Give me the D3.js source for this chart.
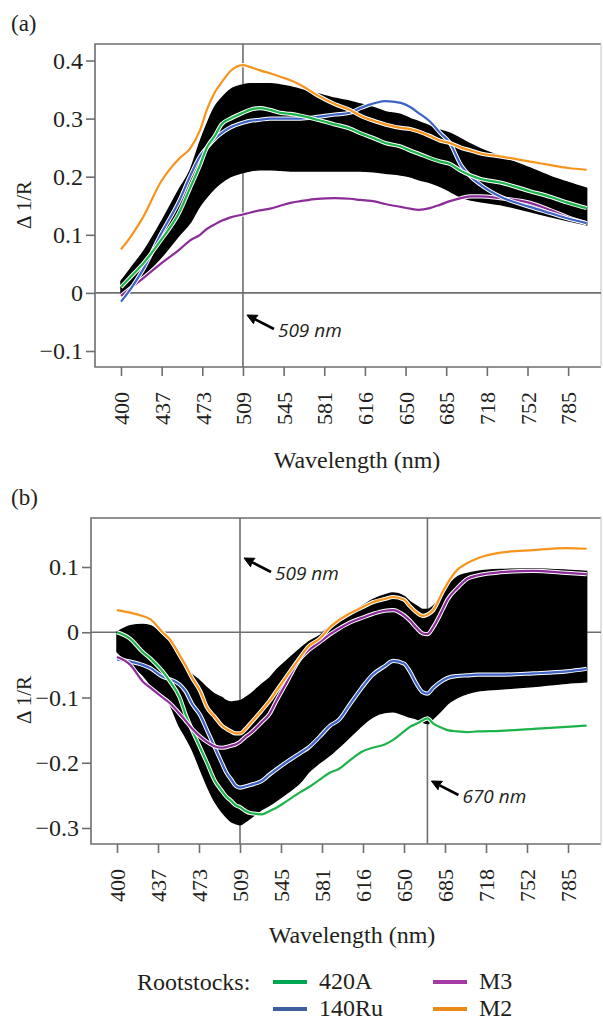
<!DOCTYPE html>
<html><head><meta charset="utf-8">
<script src="https://cdn.jsdelivr.net/npm/d3@7"></script>
<style>
html,body{margin:0;padding:0;background:#fff;}
svg{display:block;}
</style></head>
<body>
<svg id="chart" width="603" height="1022"></svg>
<script>
// ---------- data ----------
const tickWl = [400,437,473,509,545,581,616,650,685,718,752,785];
const tickLabels = ["400","437","473","509","545","581","616","650","685","718","752","785"];
const wlEnd = 800;
const seriesNames = ["420A","140Ru","M3","M2"];
const seriesColors = ["#1db34b","#3f63c4","#8b2c98","#f7941d"];
const legendColors = ["#00a651","#3e5e9e","#a43aa6","#e98b16"];
const yTicksA = [-0.1,0,0.1,0.2,0.3,0.4];
const yTicksB = [-0.3,-0.2,-0.1,0,0.1];
const yTickLabelsA = ["\u22120.1","0","0.1","0.2","0.3","0.4"];
const yTickLabelsB = ["\u22120.3","\u22120.2","\u22120.1","0","0.1"];

// panel (a)
const wlA = [400,410,420,436,453,462,471,477,484,490,498,509,515,524,533,542,551,560,575,590,603,612,625,633,646,654,661,671,680,688,697,705,713,729,754,771,785,800];
const a420A = [0.01,0.03,0.05,0.09,0.14,0.18,0.22,0.25,0.27,0.29,0.30,0.31,0.315,0.318,0.315,0.31,0.308,0.305,0.298,0.29,0.283,0.275,0.265,0.258,0.252,0.245,0.24,0.232,0.226,0.222,0.21,0.202,0.196,0.19,0.175,0.165,0.155,0.146];
const a140Ru = [-0.015,0.01,0.04,0.10,0.16,0.20,0.235,0.25,0.265,0.275,0.285,0.293,0.296,0.298,0.30,0.30,0.30,0.30,0.303,0.307,0.31,0.318,0.327,0.33,0.327,0.32,0.31,0.295,0.275,0.258,0.22,0.2,0.186,0.166,0.148,0.137,0.128,0.12];
const aM3 = [-0.005,0.01,0.025,0.05,0.075,0.09,0.10,0.11,0.118,0.124,0.13,0.135,0.138,0.142,0.145,0.15,0.155,0.158,0.162,0.163,0.162,0.16,0.157,0.153,0.148,0.145,0.143,0.146,0.152,0.158,0.163,0.166,0.166,0.163,0.155,0.142,0.13,0.12];
const aM2 = [0.075,0.10,0.13,0.19,0.232,0.248,0.28,0.315,0.345,0.362,0.382,0.392,0.389,0.383,0.378,0.372,0.366,0.358,0.34,0.325,0.315,0.305,0.295,0.29,0.284,0.282,0.278,0.27,0.262,0.258,0.25,0.245,0.24,0.235,0.226,0.22,0.215,0.212];
const aUpper = [0.02,0.045,0.07,0.12,0.18,0.21,0.26,0.29,0.32,0.335,0.35,0.358,0.36,0.36,0.36,0.358,0.355,0.35,0.343,0.335,0.33,0.325,0.318,0.312,0.307,0.3,0.295,0.287,0.28,0.275,0.265,0.256,0.248,0.235,0.215,0.2,0.19,0.18];
const aLower = [0.0,0.015,0.03,0.06,0.10,0.12,0.15,0.165,0.18,0.19,0.20,0.207,0.21,0.212,0.212,0.211,0.21,0.21,0.21,0.21,0.21,0.21,0.208,0.206,0.203,0.2,0.195,0.19,0.183,0.175,0.165,0.16,0.157,0.152,0.14,0.131,0.124,0.117];

// panel (b)
const wlB = [400,412,423,430,441,447,456,461,467,474,480,487,493,497,501,505,509,514,518,528,535,541,549,562,569,579,588,595,605,615,624,634,641,650,655,661,666,670,675,683,687,695,703,711,730,757,784,800];
const b420A = [0.0,-0.01,-0.03,-0.04,-0.06,-0.074,-0.1,-0.125,-0.15,-0.177,-0.2,-0.228,-0.243,-0.252,-0.258,-0.265,-0.268,-0.274,-0.277,-0.279,-0.274,-0.269,-0.26,-0.245,-0.238,-0.226,-0.215,-0.21,-0.196,-0.183,-0.177,-0.172,-0.165,-0.152,-0.145,-0.14,-0.135,-0.132,-0.14,-0.147,-0.15,-0.152,-0.153,-0.152,-0.151,-0.148,-0.145,-0.143];
const b140Ru = [-0.042,-0.045,-0.05,-0.055,-0.068,-0.072,-0.08,-0.09,-0.11,-0.127,-0.15,-0.177,-0.2,-0.215,-0.225,-0.235,-0.238,-0.236,-0.234,-0.228,-0.218,-0.21,-0.2,-0.185,-0.177,-0.16,-0.143,-0.135,-0.11,-0.085,-0.065,-0.052,-0.044,-0.048,-0.06,-0.08,-0.092,-0.094,-0.085,-0.074,-0.07,-0.067,-0.066,-0.065,-0.065,-0.063,-0.06,-0.056];
const bM3 = [-0.038,-0.05,-0.075,-0.085,-0.1,-0.108,-0.125,-0.135,-0.148,-0.16,-0.168,-0.175,-0.177,-0.176,-0.174,-0.172,-0.168,-0.16,-0.155,-0.138,-0.125,-0.105,-0.08,-0.04,-0.028,-0.015,-0.003,0.005,0.015,0.022,0.028,0.033,0.034,0.026,0.018,0.006,-0.002,-0.003,0.008,0.035,0.05,0.068,0.082,0.087,0.092,0.094,0.091,0.089];
const bM2 = [0.034,0.03,0.025,0.02,0.0,-0.01,-0.035,-0.05,-0.07,-0.09,-0.115,-0.13,-0.143,-0.148,-0.152,-0.155,-0.155,-0.148,-0.14,-0.12,-0.105,-0.09,-0.07,-0.038,-0.022,-0.01,0.008,0.018,0.029,0.038,0.046,0.051,0.054,0.05,0.04,0.03,0.025,0.027,0.034,0.062,0.075,0.096,0.106,0.113,0.122,0.126,0.129,0.128];
const bUpper = [0.0,0.01,0.012,0.01,-0.005,-0.015,-0.04,-0.055,-0.065,-0.075,-0.085,-0.095,-0.1,-0.105,-0.107,-0.106,-0.105,-0.1,-0.095,-0.08,-0.07,-0.058,-0.045,-0.025,-0.015,-0.005,0.01,0.018,0.03,0.04,0.05,0.057,0.06,0.055,0.047,0.04,0.035,0.035,0.04,0.06,0.07,0.085,0.09,0.093,0.096,0.097,0.095,0.093];
const bLower = [-0.03,-0.05,-0.065,-0.08,-0.1,-0.11,-0.145,-0.16,-0.18,-0.21,-0.235,-0.26,-0.275,-0.283,-0.29,-0.293,-0.295,-0.29,-0.285,-0.272,-0.265,-0.258,-0.248,-0.23,-0.215,-0.2,-0.188,-0.177,-0.16,-0.143,-0.13,-0.123,-0.122,-0.127,-0.13,-0.133,-0.138,-0.14,-0.132,-0.118,-0.11,-0.1,-0.094,-0.09,-0.087,-0.083,-0.078,-0.076];

// ---------- drawing ----------
const svg = d3.select("#chart");
const axisColor = "#6d6e71";
const SERIF = "'Liberation Serif','Times New Roman',serif";
const SANS = "'Open Sans','Liberation Sans',sans-serif";
const ink = "#231f20";

function serifText(sel, size){
  return sel.style("font-family", SERIF).style("font-size", size+"px").style("fill", ink);
}

function makeX(start, step){
  const dom = tickWl.concat([wlEnd]);
  const lastGap = tickWl[tickWl.length-1]-tickWl[tickWl.length-2];
  const rng = tickWl.map((d,i)=>start+i*step);
  rng.push(rng[rng.length-1] + (wlEnd - tickWl[tickWl.length-1])/lastGap*step);
  return d3.scaleLinear().domain(dom).range(rng);
}

function drawPanel(cfg){
  const g = svg.append("g");
  const x = makeX(cfg.x0, cfg.step);
  const y = d3.scaleLinear().domain(cfg.yDom).range(cfg.yRng);
  const {left,right,top,bottom} = cfg;

  serifText(g.append("text").attr("x",11).attr("y",cfg.letterY), 23).text(cfg.letter);

  g.append("path").attr("d",`M${right},${top}H${left}V${bottom}H${right}`)
    .attr("fill","none").attr("stroke",axisColor).attr("stroke-width",1.6);
  g.append("line").attr("x1",right).attr("x2",right).attr("y1",top).attr("y2",bottom)
    .attr("stroke","#d4d4d4").attr("stroke-width",1.4);

  g.append("line").attr("x1",left).attr("x2",right).attr("y1",y(0)).attr("y2",y(0))
    .attr("stroke",axisColor).attr("stroke-width",1.6);
  cfg.markers.forEach(m=>{
    g.append("line").attr("x1",x(m)).attr("x2",x(m)).attr("y1",top).attr("y2",bottom)
      .attr("stroke",axisColor).attr("stroke-width",1.6);
  });

  const band = cfg.wl.map((w,i)=>({w, lo:cfg.lower[i], hi:cfg.upper[i]}));
  g.append("path").datum(band)
    .attr("d", d3.area().x(d=>x(d.w)).y0(d=>y(d.lo)).y1(d=>y(d.hi)).curve(d3.curveMonotoneX))
    .attr("fill","#000").attr("stroke","#000").attr("stroke-width",1.5);

  const line = d3.line().x(d=>x(d.w)).y(d=>y(d.v)).curve(d3.curveMonotoneX);
  cfg.order.forEach(k=>{
    const pts = cfg.wl.map((w,i)=>({w, v:cfg.series[k][i]}));
    g.append("path").datum(pts).attr("d",line).attr("fill","none")
      .attr("stroke","#fff").attr("stroke-width",4.2).attr("stroke-linejoin","round");
    g.append("path").datum(pts).attr("d",line).attr("fill","none")
      .attr("stroke",seriesColors[k]).attr("stroke-width",2.2).attr("stroke-linejoin","round");
  });

  const ya = g.append("g").attr("transform",`translate(${left},0)`)
    .call(d3.axisLeft(y).tickValues(cfg.yTicks).tickSize(9).tickPadding(3)
      .tickFormat((d,i)=>cfg.yLabels[i]));
  ya.attr("font-family",null).attr("font-size",null);
  ya.select(".domain").remove();
  ya.selectAll("line").attr("stroke",axisColor).attr("stroke-width",1.6);
  serifText(ya.selectAll("text"), 24);

  const xa = g.append("g").attr("transform",`translate(0,${bottom})`)
    .call(d3.axisBottom(x).tickValues(tickWl).tickSize(9).tickFormat((d,i)=>tickLabels[i]));
  xa.attr("font-family",null).attr("font-size",null);
  xa.select(".domain").remove();
  xa.selectAll("line").attr("stroke",axisColor).attr("stroke-width",1.6);
  serifText(xa.selectAll("text"), 22)
    .attr("transform","rotate(-90)").attr("text-anchor","end")
    .attr("x",-25).attr("y",0).attr("dy","0.35em");

  serifText(g.append("text").attr("text-anchor","middle")
    .attr("x",cfg.xTitleX).attr("y",cfg.xTitleY), 24).text("Wavelength (nm)");
  serifText(g.append("text").attr("text-anchor","middle")
    .attr("transform",`translate(31,${cfg.yTitleY}) rotate(-90)`), 21).text("\u0394 1/R");

  cfg.notes.forEach(n=>{
    const tipX = x(n.wl)+4, tipY = n.tipY;
    const tailX = tipX+27, tailY = tipY+14;
    const ang = Math.atan2(tailY-tipY, tailX-tipX);
    const hl = 11, hw = 0.45;
    const baseX = tipX + hl*0.8*Math.cos(ang), baseY = tipY + hl*0.8*Math.sin(ang);
    g.append("line").attr("x1",tailX).attr("y1",tailY).attr("x2",baseX).attr("y2",baseY)
      .attr("stroke","#000").attr("stroke-width",2.6);
    const p1 = [tipX+hl*Math.cos(ang-hw), tipY+hl*Math.sin(ang-hw)];
    const p2 = [tipX+hl*Math.cos(ang+hw), tipY+hl*Math.sin(ang+hw)];
    g.append("path").attr("d",`M${p1[0]},${p1[1]}L${tipX},${tipY}L${p2[0]},${p2[1]}L${baseX},${baseY}Z`)
      .attr("fill","#000").attr("stroke","#000").attr("stroke-width",1).attr("stroke-linejoin","miter");
    g.append("text").style("font-family",SANS).style("font-style","italic")
      .style("font-size","19px").style("fill",ink)
      .attr("x",tailX+4).attr("y",tailY+8).text(n.text);
  });
}

drawPanel({
  letter:"(a)", letterY:31,
  left:95, right:601, top:44, bottom:367,
  x0:121, step:40.65,
  yDom:[-0.1,0.4], yRng:[351,60.5],
  yTicks:yTicksA, yLabels:yTickLabelsA,
  wl:wlA, upper:aUpper, lower:aLower,
  series:[a420A,a140Ru,aM3,aM2], order:[2,1,0,3],
  markers:[509],
  notes:[{wl:509, tipY:315, text:"509 nm"}],
  xTitleX:357, xTitleY:468, yTitleY:205
});

drawPanel({
  letter:"(b)", letterY:505,
  left:91, right:601, top:518, bottom:844,
  x0:117, step:41,
  yDom:[-0.3,0.1], yRng:[828,567],
  yTicks:yTicksB, yLabels:yTickLabelsB,
  wl:wlB, upper:bUpper, lower:bLower,
  series:[b420A,b140Ru,bM3,bM2], order:[1,0,2,3],
  markers:[509,670],
  notes:[{wl:509, tipY:558, text:"509 nm"},{wl:670, tipY:781, text:"670 nm"}],
  xTitleX:352, xTitleY:943, yTitleY:700
});

// legend
const leg = svg.append("g");
serifText(leg.append("text").attr("x",137).attr("y",990), 24).text("Rootstocks:");
const legPos = [[273,982],[273,1009],[433,982],[433,1009]];
seriesNames.forEach((nm,i)=>{
  const [lx,ly] = legPos[i];
  leg.append("line").attr("x1",lx).attr("x2",lx+34).attr("y1",ly).attr("y2",ly)
    .attr("stroke",legendColors[i]).attr("stroke-width",4);
  serifText(leg.append("text").attr("x",lx+46).attr("y",ly+7), 24).text(nm);
});
</script>
</body></html>
